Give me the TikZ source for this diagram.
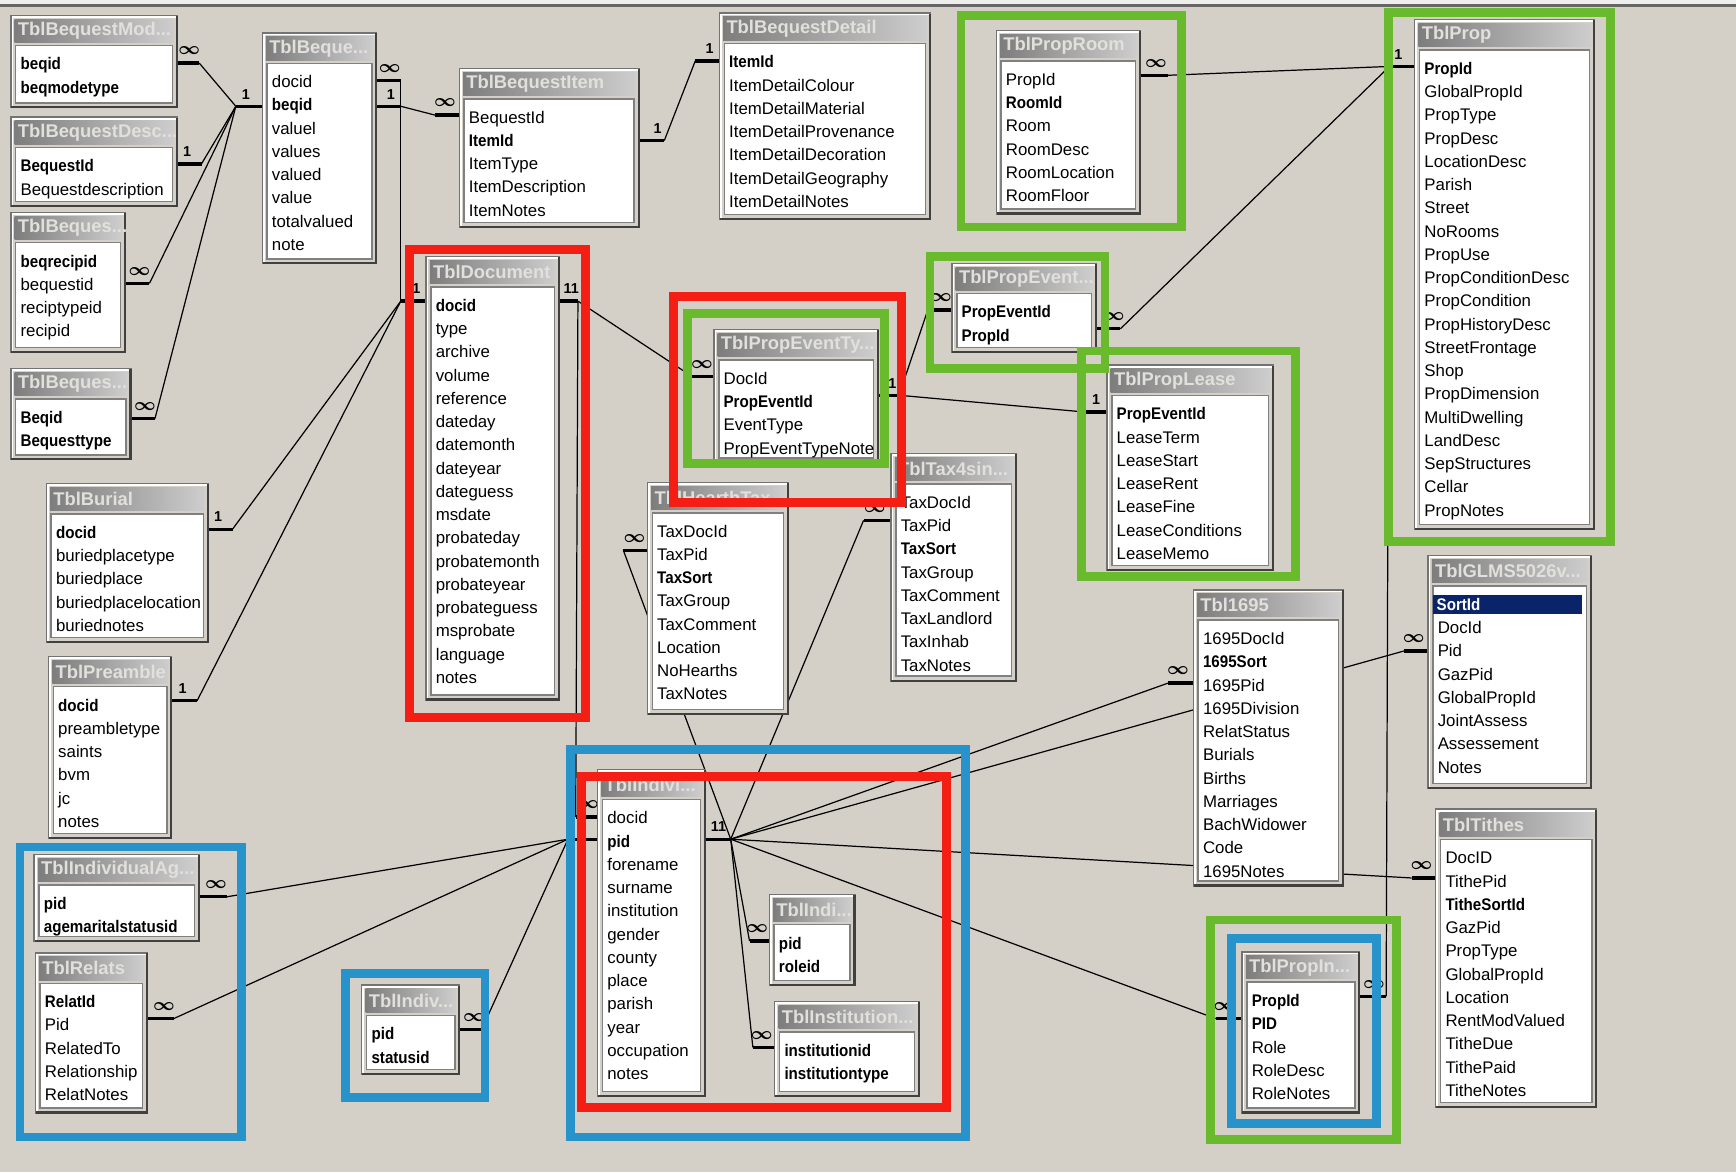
\documentclass[tikz,border=0pt]{standalone}
\usepackage{fontspec}
\setmainfont{Liberation Sans}
\usetikzlibrary{calc,fit}
\definecolor{winbg}{RGB}{212,208,200}
\definecolor{topwhite}{RGB}{238,238,236}
\definecolor{tdark}{RGB}{125,125,125}
\definecolor{tlight}{RGB}{205,205,205}
\definecolor{ttext}{RGB}{226,224,220}
\definecolor{hired}{RGB}{245,30,20}
\definecolor{higreen}{RGB}{106,186,46}
\definecolor{hiblue}{RGB}{40,146,202}
\definecolor{selnavy}{RGB}{10,36,106}

\newcommand\kf[1]{\scalebox{0.9}[1]{\textbf{#1}}}
\newcommand\manyc{{\fontsize{8.5}{9}\selectfont\boldmath$\infty$}}
\newcommand\hlrow[1]{\hspace*{-2pt}{\setlength{\fboxsep}{1.5pt}\colorbox{selnavy}{\makebox[64pt][l]{\textcolor{white}{\kf{#1}}}}}}

\tikzset{
  tblframe/.style={fill=winbg, draw=black!55, line width=0.8pt, inner sep=0pt},
  tbllist/.style={fill=white, draw=black!50, line width=0.7pt, inner sep=0pt},
  tbltitle/.style={inner sep=0pt, left color=tdark, right color=tlight},
  titletxt/.style={text=ttext, font=\fontsize{8.3}{9}\selectfont\bfseries, inner sep=0pt, anchor=west},
  fieldtxt/.style={font=\fontsize{7.6}{9}\selectfont, inner sep=0pt, anchor=base west},
  stubline/.style={line width=1.5pt, line cap=butt},
  relline/.style={line width=0.55pt},
  cardtxt/.style={font=\fontsize{6.5}{7}\selectfont\bfseries, inner sep=0pt},
  hibox/.style={line width=4pt},
}

% #1 name, #2 x1, #3 y1, #4 x2, #5 y2, #6 title, #7 rows
\newcommand\dbtable[7]{%
  \node[tblframe, fit={(#2,#3) (#4,#5)}] (#1) {};
  \draw[white, line width=0.8pt] ($(#1.south west)+(2,-2)$) |- ($(#1.north east)+(-2,2)$);
  \draw[black!75, line width=1pt] ($(#1.south west)+(1,-1)$) -| ($(#1.north east)+(-1,1)$);
  \node[tbltitle, fit={($(#1.north west)+(4,4)$) ($(#1.north east)+(-4,25)$)}] (#1-t) {};
  \node[titletxt] (#1-tt) at ($(#1-t.west)+(3,0)$) {#6};
  \node[tbllist, fit={($(#1.north west)+(5,28)$) ($(#1.south east)+(-5,-5)$)}] (#1-l) {};
  \foreach \t [count=\i] in {#7} {
    \node[fieldtxt] (#1-r\i) at ($(#1.north west)+(9,{50+21*(\i-1)})$) {\t};
  }
}

% #1 name, #2 x of table edge, #3 y, #4 x of free end, #5 label, #6 label x
\newcommand\stub[6]{%
  \coordinate (#1) at (#4,#3);
  \draw[stubline] (#2,#3) -- (#1);
  \node[cardtxt] (#1-c) at (#6,#3-11) {#5};
}

\begin{document}
\begin{tikzpicture}[x=0.5pt,y=-0.5pt]
\useasboundingbox (0,0) rectangle (1568,1059);
\fill[winbg] (0,0) rectangle (1568,1059);
\fill[topwhite] (0,0) rectangle (1568,5);
\draw[black!60, line width=1.2pt] (0,5) -- (1568,5);

% ---- stubs (relationship ends) ----
\stub{s1}{160}{57}{180}{\manyc}{171}
\stub{s2}{160}{148}{182}{1}{169}
\stub{s3}{113}{256}{135}{\manyc}{126}
\stub{s4}{118}{378}{140}{\manyc}{131}
\stub{s5}{237}{96}{213}{1}{222}
\stub{s6}{340}{73}{362}{\manyc}{352}
\stub{s7}{340}{96}{362}{1}{353}
\stub{s8}{415}{104}{393}{\manyc}{402}
\stub{s9}{577}{127}{600}{1}{594}
\stub{s10}{650}{55}{628}{1}{641}
\stub{s11}{1030}{68}{1055}{\manyc}{1044}
\stub{s12}{1278}{60}{1255}{1}{1263}
\stub{s13}{385}{272}{362}{1}{376}
\stub{s14}{505}{272}{522}{11}{516}
\stub{s15}{188}{478}{210}{1}{197}
\stub{s16}{155}{633}{178}{1}{165}
\stub{s17}{645}{340}{625}{\manyc}{634}
\stub{s18}{793}{357}{812}{1}{806}
\stub{s19}{860}{280}{838}{\manyc}{850}
\stub{s20}{990}{297}{1012}{\manyc}{1006}
\stub{s21}{1000}{372}{978}{1}{990}
\stub{s22}{585}{497}{563}{\manyc}{573}
\stub{s23}{805}{470}{780}{\manyc}{790}
\stub{s24}{540}{738}{520}{\manyc}{531}
\coordinate (s25) at (513,758);
\draw[stubline] (540,758) -- (s25);
\stub{s26}{637}{758}{660}{11}{649}
\stub{s27}{180}{810}{205}{\manyc}{195}
\stub{s28}{133}{920}{157}{\manyc}{148}
\stub{s29}{415}{930}{435}{\manyc}{428}
\stub{s30}{697}{850}{677}{\manyc}{684}
\stub{s31}{700}{946}{680}{\manyc}{688}
\stub{s32}{1078}{617}{1055}{\manyc}{1064}
\stub{s33}{1290}{588}{1268}{\manyc}{1277}
\stub{s34}{1297}{793}{1275}{\manyc}{1284}
\stub{s35}{1122}{920}{1098}{\manyc}{1106}
\stub{s36}{1228}{900}{1252}{\manyc}{1241}

% ---- relationship lines ----
\draw[relline] (s5) -- (s1);
\draw[relline] (s5) -- (s2);
\draw[relline] (s5) -- (s3);
\draw[relline] (s5) -- (s4);
\draw[relline] (s6) -- (s13);
\draw[relline] (s7) -- (s8);
\draw[relline] (s9) -- (s10);
\draw[relline] (s11) -- (s12);
\draw[relline] (s13) -- (s15);
\draw[relline] (s13) -- (s16);
\draw[relline] (s14) -- (s24);
\draw[relline] (s14) -- (s17);
\draw[relline] (s18) -- (s19);
\draw[relline] (s18) -- (s21);
\draw[relline] (s20) -- (s12);
\draw[relline] (s36) -- (s12);
\draw[relline] (s26) -- (s22);
\draw[relline] (s26) -- (s23);
\draw[relline] (s26) -- (s32);
\draw[relline] (s26) -- (s33);
\draw[relline] (s26) -- (s34);
\draw[relline] (s26) -- (s35);
\draw[relline] (s26) -- (s30);
\draw[relline] (s26) -- (s31);
\draw[relline] (s25) -- (s27);
\draw[relline] (s25) -- (s28);
\draw[relline] (s25) -- (s29);

% ---- tables ----
\dbtable{bqmod}{10}{14}{160}{97}{TblBequestMod...}{\kf{beqid},\kf{beqmodetype}}
\dbtable{bqdesc}{10}{106}{160}{186}{TblBequestDesc...}{\kf{BequestId},Bequestdescription}
\dbtable{bqrec}{10}{192}{113}{318}{TblBeques...}{\kf{beqrecipid},bequestid,reciptypeid,recipid}
\dbtable{bqtype}{10}{333}{118}{415}{TblBeques...}{\kf{Beqid},\kf{Bequesttype}}
\dbtable{beque}{237}{30}{340}{238}{TblBeque...}{docid,\kf{beqid},valuel,values,valued,value,totalvalued,note}
\dbtable{bqitem}{415}{62}{577}{205}{TblBequestItem}{BequestId,\kf{ItemId},ItemType,ItemDescription,ItemNotes}
\dbtable{bqdet}{650}{12}{840}{198}{TblBequestDetail}{\kf{ItemId},ItemDetailColour,ItemDetailMaterial,ItemDetailProvenance,ItemDetailDecoration,ItemDetailGeography,ItemDetailNotes}
\dbtable{proproom}{900}{28}{1030}{193}{TblPropRoom}{PropId,\kf{RoomId},Room,RoomDesc,RoomLocation,RoomFloor}
\dbtable{prop}{1278}{18}{1440}{478}{TblProp}{\kf{PropId},GlobalPropId,PropType,PropDesc,LocationDesc,Parish,Street,NoRooms,PropUse,PropConditionDesc,PropCondition,PropHistoryDesc,StreetFrontage,Shop,PropDimension,MultiDwelling,LandDesc,SepStructures,Cellar,PropNotes}
\dbtable{doc}{385}{232}{505}{632}{TblDocument}{\kf{docid},type,archive,volume,reference,dateday,datemonth,dateyear,dateguess,msdate,probateday,probatemonth,probateyear,probateguess,msprobate,language,notes}
\dbtable{propevent}{860}{238}{990}{318}{TblPropEvent...}{\kf{PropEventId},\kf{PropId}}
\dbtable{propety}{645}{298}{793}{418}{TblPropEventTy...}{DocId,\kf{PropEventId},EventType,PropEventTypeNote}
\dbtable{proplease}{1000}{330}{1150}{515}{TblPropLease}{\kf{PropEventId},LeaseTerm,LeaseStart,LeaseRent,LeaseFine,LeaseConditions,LeaseMemo}
\dbtable{burial}{42}{437}{188}{580}{TblBurial}{\kf{docid},buriedplacetype,buriedplace,buriedplacelocation,buriednotes}
\dbtable{preamble}{44}{593}{155}{757}{TblPreamble}{\kf{docid},preambletype,saints,bvm,jc,notes}
\dbtable{hearth}{585}{436}{712}{645}{TblHearthTax...}{TaxDocId,TaxPid,\kf{TaxSort},TaxGroup,TaxComment,Location,NoHearths,TaxNotes}
\dbtable{taxfour}{805}{410}{918}{615}{TblTax4sin...}{TaxDocId,TaxPid,\kf{TaxSort},TaxGroup,TaxComment,TaxLandlord,TaxInhab,TaxNotes}
\dbtable{tsixteen}{1078}{533}{1213}{800}{Tbl1695}{1695DocId,\kf{1695Sort},1695Pid,1695Division,RelatStatus,Burials,Births,Marriages,BachWidower,Code,1695Notes}
\dbtable{glms}{1290}{502}{1437}{712}{TblGLMS5026v...}{\hlrow{SortId},DocId,Pid,GazPid,GlobalPropId,JointAssess,Assessement,Notes}
\dbtable{tithes}{1297}{731}{1442}{1000}{TblTithes}{DocID,TithePid,\kf{TitheSortId},GazPid,PropType,GlobalPropId,Location,RentModValued,TitheDue,TithePaid,TitheNotes}
\dbtable{propin}{1122}{860}{1228}{1005}{TblPropIn...}{\kf{PropId},\kf{PID},Role,RoleDesc,RoleNotes}
\dbtable{indag}{31}{772}{180}{850}{TblIndividualAg...}{\kf{pid},\kf{agemaritalstatusid}}
\dbtable{relats}{32}{861}{133}{1005}{TblRelats}{\kf{RelatId},Pid,RelatedTo,Relationship,RelatNotes}
\dbtable{indstat}{327}{890}{415}{970}{TblIndiv...}{\kf{pid},\kf{statusid}}
\dbtable{indiv}{540}{695}{637}{990}{TblIndivi...}{docid,\kf{pid},forename,surname,institution,gender,county,place,parish,year,occupation,notes}
\dbtable{indrole}{695}{808}{772}{890}{TblIndi...}{\kf{pid},\kf{roleid}}
\dbtable{inst}{700}{905}{830}{990}{TblInstitution...}{\kf{institutionid},\kf{institutiontype}}

% ---- highlight boxes ----
\draw[hibox, hiblue] (515,677) rectangle (872,1027);
\draw[hibox, hired] (525,701) rectangle (855,1000);
\draw[hibox, hired] (370,225) rectangle (529,648);
\draw[hibox, hired] (608,268) rectangle (814,454);
\draw[hibox, higreen] (621,283) rectangle (799,419);
\draw[hibox, higreen] (868,14) rectangle (1067,205);
\draw[hibox, higreen] (840,232) rectangle (998,333);
\draw[hibox, higreen] (977,317) rectangle (1170,521);
\draw[hibox, higreen] (1254,11) rectangle (1455,489);
\draw[hibox, hiblue] (18,765) rectangle (218,1027);
\draw[hibox, hiblue] (312,879) rectangle (438,991);
\draw[hibox, higreen] (1093,831) rectangle (1261,1029);
\draw[hibox, hiblue] (1112,848) rectangle (1243,1015);
\end{tikzpicture}
\end{document}
